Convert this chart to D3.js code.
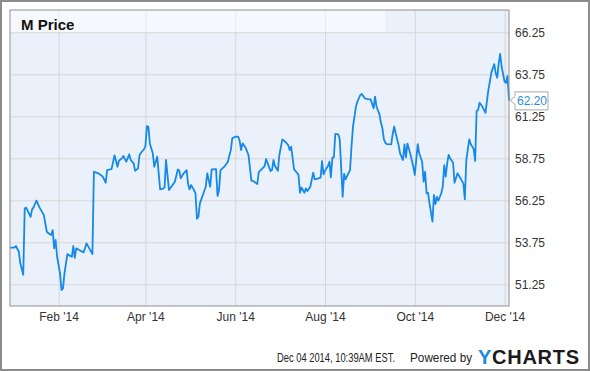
<!DOCTYPE html>
<html>
<head>
<meta charset="utf-8">
<script src="https://cdn.jsdelivr.net/npm/d3@7"></script>
<style>
body { margin: 0; background: #fff; }
text { font-family: "Liberation Sans", Arial, sans-serif; }
</style>
</head>
<body>
<div id="chart"></div>
<script>
// M (Macy's) daily price
var dates = [
  "2013-12-30","2014-01-02","2014-01-03","2014-01-05","2014-01-06","2014-01-08","2014-01-09","2014-01-10",
  "2014-01-13","2014-01-14","2014-01-15","2014-01-17","2014-01-19","2014-01-22","2014-01-24","2014-01-26",
  "2014-01-27","2014-01-28","2014-01-29","2014-01-30","2014-01-31","2014-02-02","2014-02-03","2014-02-04",
  "2014-02-05","2014-02-07","2014-02-08","2014-02-10","2014-02-11","2014-02-12","2014-02-13","2014-02-15",
  "2014-02-18","2014-02-20","2014-02-24","2014-02-25","2014-02-28","2014-03-03","2014-03-05","2014-03-06",
  "2014-03-08","2014-03-09","2014-03-11","2014-03-13","2014-03-14","2014-03-16","2014-03-17","2014-03-19",
  "2014-03-21","2014-03-22","2014-03-24","2014-03-25","2014-03-27","2014-03-28","2014-03-29","2014-03-31",
  "2014-04-01","2014-04-02","2014-04-03","2014-04-04","2014-04-06","2014-04-07","2014-04-09","2014-04-11",
  "2014-04-13","2014-04-14","2014-04-15","2014-04-17","2014-04-19","2014-04-21","2014-04-23","2014-04-24",
  "2014-04-25","2014-04-27","2014-04-29","2014-04-30","2014-05-01","2014-05-02","2014-05-04","2014-05-05",
  "2014-05-06","2014-05-07","2014-05-08","2014-05-10","2014-05-12","2014-05-13","2014-05-15","2014-05-16",
  "2014-05-19","2014-05-20","2014-05-21","2014-05-22","2014-05-25","2014-05-27","2014-05-29","2014-05-30",
  "2014-06-01","2014-06-03","2014-06-04","2014-06-05","2014-06-06","2014-06-08","2014-06-10","2014-06-12",
  "2014-06-14","2014-06-16","2014-06-17","2014-06-19","2014-06-21","2014-06-22","2014-06-25","2014-06-26",
  "2014-06-27","2014-06-28","2014-06-30","2014-07-01","2014-07-03","2014-07-05","2014-07-07","2014-07-08",
  "2014-07-09","2014-07-11","2014-07-13","2014-07-14","2014-07-15","2014-07-16","2014-07-18","2014-07-19",
  "2014-07-20","2014-07-22","2014-07-24","2014-07-25","2014-07-27","2014-07-29","2014-07-30","2014-07-31",
  "2014-08-01","2014-08-03","2014-08-04","2014-08-05","2014-08-06","2014-08-07","2014-08-08","2014-08-10",
  "2014-08-11","2014-08-13","2014-08-14","2014-08-15","2014-08-16","2014-08-18","2014-08-19","2014-08-20",
  "2014-08-22","2014-08-23","2014-08-25","2014-08-26","2014-08-28","2014-08-30","2014-09-01","2014-09-03",
  "2014-09-04","2014-09-05","2014-09-07","2014-09-08","2014-09-09","2014-09-10","2014-09-11","2014-09-12",
  "2014-09-15","2014-09-16","2014-09-17","2014-09-18","2014-09-20","2014-09-21","2014-09-23","2014-09-24",
  "2014-09-25","2014-09-26","2014-09-28","2014-09-30","2014-10-01","2014-10-03","2014-10-04","2014-10-06",
  "2014-10-07","2014-10-08","2014-10-09","2014-10-10","2014-10-11","2014-10-13","2014-10-14","2014-10-15",
  "2014-10-16","2014-10-17","2014-10-19","2014-10-20","2014-10-21","2014-10-22","2014-10-23","2014-10-24",
  "2014-10-25","2014-10-27","2014-10-28","2014-10-30","2014-10-31","2014-11-03","2014-11-04","2014-11-05",
  "2014-11-07","2014-11-08","2014-11-10","2014-11-11","2014-11-12","2014-11-13","2014-11-14","2014-11-16",
  "2014-11-17","2014-11-18","2014-11-20","2014-11-21","2014-11-22","2014-11-24","2014-11-25","2014-11-26",
  "2014-11-27","2014-11-28","2014-11-29","2014-12-01","2014-12-02","2014-12-03","2014-12-04"
];
var prices = [
  53.43,53.43,53.53,53.19,52.50,51.82,55.77,55.81,
  55.27,55.71,55.83,56.23,55.83,55.37,54.38,54.23,
  54.19,54.48,53.39,53.89,52.89,51.90,50.91,51.01,
  51.90,53.05,52.99,52.89,53.53,52.83,53.39,53.29,
  53.15,53.69,53.05,57.95,57.86,57.66,57.30,58.05,
  58.09,58.11,58.93,58.25,58.61,58.75,58.89,58.55,
  58.99,58.65,58.45,58.01,58.15,58.95,59.08,59.29,
  59.48,60.67,60.63,59.64,59.05,58.25,58.85,56.90,
  56.94,57.02,58.65,56.86,57.10,57.36,58.09,58.01,
  57.56,57.86,58.05,57.22,56.90,57.16,56.86,56.67,
  55.15,55.27,56.07,56.57,57.06,57.86,57.06,58.09,
  58.11,56.51,56.86,58.05,58.29,58.55,59.24,59.94,
  60.04,60.04,59.80,59.24,59.64,59.40,58.95,57.42,
  57.36,57.22,57.93,58.11,58.29,58.71,57.99,58.05,
  58.65,58.29,58.01,58.95,59.88,59.74,59.54,59.24,
  59.44,58.09,57.89,57.76,56.70,57.02,56.70,56.96,
  56.80,57.06,57.89,57.50,57.54,57.60,58.59,57.80,
  58.01,58.29,58.55,57.62,58.79,58.81,60.20,60.18,
  59.88,56.46,57.82,57.50,57.70,58.05,59.44,60.63,
  61.82,62.12,62.52,62.58,62.32,62.28,62.26,61.73,
  62.42,61.82,61.37,60.87,60.54,59.88,59.68,59.60,
  59.58,60.20,60.63,60.24,59.54,59.05,58.65,59.58,
  58.81,59.63,59.00,58.25,57.76,59.60,59.05,58.55,
  57.36,57.95,56.67,56.70,56.07,54.98,56.57,56.03,
  56.46,56.23,56.67,57.06,58.35,57.66,58.45,58.95,
  58.75,58.49,57.30,57.86,57.71,57.26,56.31,58.65,
  59.88,59.60,59.30,58.59,61.57,61.63,62.06,61.82,
  61.63,61.46,62.82,63.31,63.85,64.36,63.81,63.55,
  64.40,64.96,64.20,63.31,63.25,63.65,62.20
];
var yTicks = [51.25, 53.75, 56.25, 58.75, 61.25, 63.75, 66.25];
var xTicks = ["2014-02-01", "2014-04-01", "2014-06-01", "2014-08-01", "2014-10-01", "2014-12-01"];
var title = "M Price";
var stamp = "Dec 04 2014, 10:39AM EST.";

var svgWidth = 590, svgHeight = 371;
var margin = { top: 10, right: 81, bottom: 65, left: 10 };
var width = svgWidth - margin.left - margin.right;
var height = svgHeight - margin.top - margin.bottom;

var parse = d3.timeParse("%Y-%m-%d");
var data = dates.map(function(d, i) { return { date: parse(d), price: prices[i] }; });

var svg = d3.select("#chart").append("svg")
  .attr("width", svgWidth)
  .attr("height", svgHeight);

// outer frame
svg.append("rect")
  .attr("x", 1).attr("y", 1)
  .attr("width", svgWidth - 2).attr("height", svgHeight - 2)
  .attr("fill", "#fff").attr("stroke", "#8c8c8c").attr("stroke-width", 2);

var g = svg.append("g").attr("transform", "translate(" + margin.left + "," + margin.top + ")");

var x = d3.scaleTime()
  .domain([parse("2013-12-30"), parse("2014-12-04")])
  .range([0, width]);
var y = d3.scaleLinear()
  .domain([49.96, 67.58])
  .range([height, 0]);

g.append("rect").attr("width", width).attr("height", height).attr("fill", "#eaf1fb");

// gridlines
g.append("g")
  .call(d3.axisLeft(y).tickValues(yTicks).tickSize(-width).tickFormat(""));
g.append("g").attr("transform", "translate(0," + height + ")")
  .call(d3.axisBottom(x).tickValues(xTicks.map(parse)).tickSize(-height).tickFormat(""));
g.selectAll(".domain").remove();
g.selectAll(".tick line").attr("stroke", "#d6d6d6");

// title band
g.append("rect").attr("width", 375).attr("height", 22)
  .attr("fill", "#fff").attr("opacity", 0.5);
g.append("text").attr("x", 11).attr("y", 19.5)
  .attr("font-size", 15).attr("font-weight", "bold").attr("fill", "#111")
  .text(title);

var line = d3.line()
  .x(function(d) { return x(d.date); })
  .y(function(d) { return y(d.price); });

g.append("path").datum(data)
  .attr("d", line)
  .attr("fill", "none")
  .attr("stroke", "#1589e8")
  .attr("stroke-width", 1.8)
  .attr("stroke-linejoin", "round");

g.append("rect").attr("width", width).attr("height", height)
  .attr("fill", "none").attr("stroke", "#8f8f8f");

// axes
var yAxis = g.append("g").attr("transform", "translate(" + width + ",0)")
  .call(d3.axisRight(y).tickValues(yTicks).tickSize(0).tickPadding(6).tickFormat(d3.format(".2f")));
var xAxis = g.append("g").attr("transform", "translate(0," + height + ")")
  .call(d3.axisBottom(x).tickValues(xTicks.map(parse)).tickSize(0).tickPadding(6).tickFormat(d3.timeFormat("%b '%y")));
[yAxis, xAxis].forEach(function(a) {
  a.select(".domain").remove();
  a.selectAll("text").attr("font-size", 12).attr("fill", "#333")
    .style("font-family", "'Liberation Sans', Arial, sans-serif");
});

// last value callout
var last = data[data.length - 1];
var callout = g.append("g")
  .attr("transform", "translate(" + x(last.date) + "," + y(last.price) + ")");
callout.append("path")
  .attr("d", "M1,0L6,-4L6,-8.5L39,-8.5L39,9.5L6,9.5L6,4Z")
  .attr("fill", "#fff").attr("stroke", "#a8a8a8");
callout.append("text").attr("x", 8).attr("y", 4.5)
  .attr("font-size", 12).attr("fill", "#2a8de4")
  .text(last.price.toFixed(2));

// footer (narrow text: squeeze horizontally)
var footer = svg.append("g");
footer.append("text")
  .attr("transform", "translate(277,362) scale(0.78,1)")
  .attr("font-size", 12).attr("fill", "#222")
  .text(stamp);
footer.append("text")
  .attr("transform", "translate(410,362) scale(0.98,1)")
  .attr("font-size", 12).attr("fill", "#222")
  .text("Powered by");
var logo = footer.append("text").attr("x", 478).attr("y", 364)
  .attr("font-size", 20).attr("font-weight", "bold")
  .attr("textLength", 101).attr("lengthAdjust", "spacing");
logo.append("tspan").attr("fill", "#1a8ae0").text("Y");
logo.append("tspan").attr("fill", "#1b1b1b").text("CHARTS");
</script>
</body>
</html>
